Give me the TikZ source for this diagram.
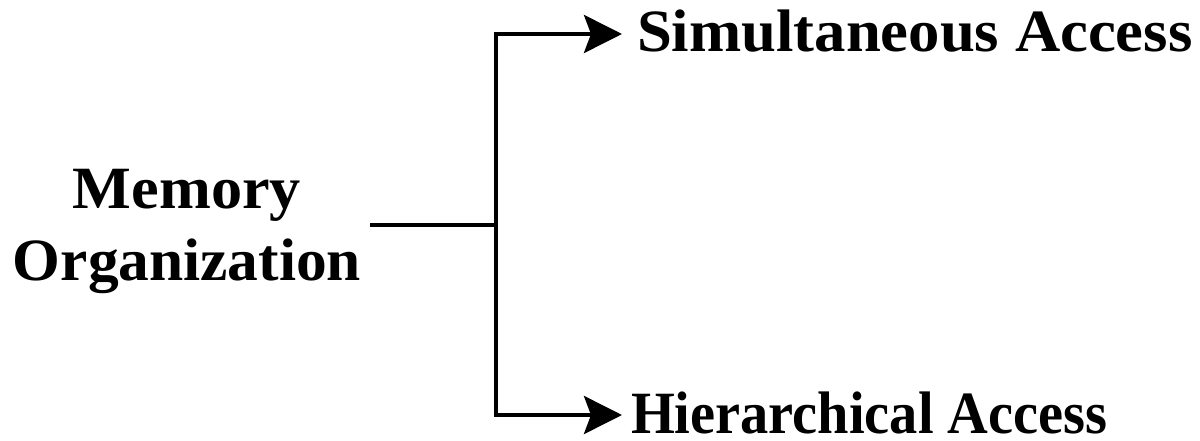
\documentclass[tikz,border=0pt]{standalone}
\usepackage{fontspec}
\usepackage{graphicx}
\setmainfont{Liberation Serif}
\usetikzlibrary{arrows.meta}
\begin{document}
\begin{tikzpicture}[x=1pt,y=-1pt,
  label/.style={font=\fontsize{60}{72}\selectfont\bfseries, inner sep=0pt, outer sep=0pt},
  target/.style={label, text height=42pt, text depth=6pt, anchor=west},
  conn/.style={line width=4pt, line join=miter},
  arr/.style={conn, -{Stealth[length=38pt,width=38pt,inset=7pt]}}]
  \useasboundingbox (0,0) rectangle (1200,441);
  % source and branch targets
  \node[label, align=center] (mem) at (187,231) {\scalebox{1.037}[1]{Memory}\\\scalebox{1.024}[1]{Organization}};
  \node[target] (sim) at (637,34) {\scalebox{1.045}[1]{Simultaneous Access}};
  \node[target] (hier) at (631,415) {\scalebox{0.94}[1]{Hierarchical Access}};
  \coordinate (j) at (496,225);
  % trunk and branches
  \draw[conn] ([xshift=9pt]mem.east |- j) -- (j);
  \draw[arr, shorten >=15pt] (j) |- (sim.west);
  \draw[arr, shorten >=9pt] (j) |- (hier.west);
\end{tikzpicture}
\end{document}
